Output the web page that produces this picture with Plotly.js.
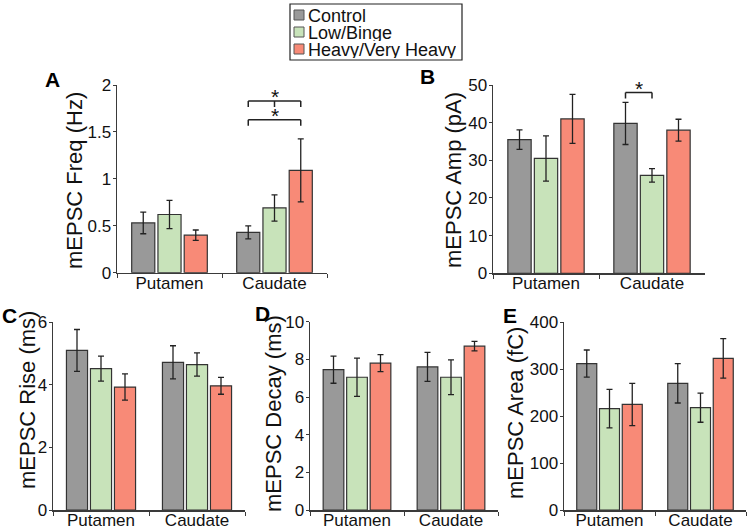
<!DOCTYPE html>
<html>
<head>
<meta charset="utf-8">
<script src="https://cdn.plot.ly/plotly-3.0.1.min.js"></script>
<style>
  html, body { margin: 0; padding: 0; background: #fff; }
  #myDiv { width: 750px; height: 530px; }
</style>
</head>
<body>
<div id="myDiv"></div>
<script>
var regions = ['Putamen', 'Caudate'];
var groups = ['Control', 'Low/Binge', 'Heavy/Very Heavy'];
var colors = ['#999999', '#c8e3ba', '#f88a77'];

// mean values [Putamen, Caudate] per group, and error (SEM)
var freqMean = [[0.53, 0.43], [0.62, 0.69], [0.40, 1.09]];
var freqErr  = [[0.115, 0.07], [0.15, 0.14], [0.055, 0.335]];

var ampMean = [[35.5, 39.8], [30.5, 26.0], [41.0, 38.0]];
var ampErr  = [[2.6, 5.6], [6.0, 1.8], [6.5, 2.9]];

var riseMean = [[5.1, 4.72], [4.52, 4.65], [3.93, 3.97]];
var riseErr  = [[0.67, 0.53], [0.4, 0.37], [0.42, 0.27]];

var decayMean = [[7.45, 7.6], [7.05, 7.05], [7.8, 8.7]];
var decayErr  = [[0.72, 0.77], [1.02, 0.92], [0.45, 0.25]];

var areaMean = [[312, 270], [216, 218], [225, 323]];
var areaErr  = [[29, 42], [41, 31], [45, 42]];

var font = 'Liberation Sans';
var axisColor = '#3a3a3a';

var data = [];
function addPanel(mean, err, ax) {
	for (var g = 0; g < groups.length; g++) {
		data.push({
			type: 'bar',
			x: regions,
			y: mean[g],
			name: groups[g],
			showlegend: false,
			xaxis: 'x' + ax,
			yaxis: 'y' + ax,
			marker: { color: colors[g], line: { color: '#333', width: 1.2 } },
			error_y: { type: 'data', array: err[g], visible: true, color: '#222', thickness: 1.3, width: 3 }
		});
	}
}
addPanel(freqMean, freqErr, '');
addPanel(ampMean, ampErr, '2');
addPanel(riseMean, riseErr, '3');
addPanel(decayMean, decayErr, '4');
addPanel(areaMean, areaErr, '5');

function xAxis(px0, px1, anchor) {
	return {
		domain: [px0 / 750, px1 / 750], anchor: anchor,
		showline: true, linecolor: axisColor, linewidth: 1.5,
		ticks: 'outside', tickson: 'boundaries', ticklen: 4, tickcolor: axisColor,
		ticklabelstandoff: -6,
		showgrid: false, zeroline: false,
		tickfont: { family: font, size: 17, color: '#111' }
	};
}
function yAxis(py0, py1, anchor, range, dtick) {
	return {
		domain: [1 - py1 / 530, 1 - py0 / 530], anchor: anchor,
		range: range, dtick: dtick,
		showline: true, linecolor: axisColor, linewidth: 1.5,
		ticks: 'outside', ticklen: 3, tickcolor: axisColor,
		ticklabelstandoff: -2,
		showgrid: false, zeroline: false,
		tickfont: { family: font, size: 17, color: '#111' }
	};
}

var shapes = [];
function bracket(xa, ya, x0, x1, y, drop, mids) {
	var s = { type: 'line', xref: xa, yref: ya, line: { color: '#222', width: 1.5 } };
	shapes.push(Object.assign({}, s, { x0: x0, x1: x1, y0: y, y1: y }));
	var pts = [x0, x1].concat(mids || []);
	pts.forEach(function (p) {
		shapes.push(Object.assign({}, s, { x0: p, x1: p, y0: y, y1: y - drop }));
	});
}
// significance brackets (category index positions of grouped bars)
bracket('x', 'y', 0.75, 1.25, 1.83, 0.065, [1.0]);
bracket('x', 'y', 0.75, 1.25, 1.63, 0.065);
bracket('x2', 'y2', 0.75, 1.0, 48, 1.6);

// legend box and swatches
shapes.push({ type: 'rect', xref: 'paper', yref: 'paper',
	x0: 290 / 750, x1: 462 / 750, y0: 1 - 60 / 530, y1: 1 - 4 / 530,
	line: { color: '#222', width: 1.2 }, fillcolor: 'rgba(0,0,0,0)' });
var legY = [15, 32, 49];
var annotations = [];
for (var g = 0; g < groups.length; g++) {
	shapes.push({ type: 'rect', xref: 'paper', yref: 'paper',
		x0: 294 / 750, x1: 304 / 750, y0: 1 - (legY[g] + 5) / 530, y1: 1 - (legY[g] - 5) / 530,
		line: { color: '#555', width: 1 }, fillcolor: colors[g] });
	annotations.push({ xref: 'paper', yref: 'paper', x: 306 / 750, y: 1 - (legY[g] + 1) / 530,
		xanchor: 'left', yanchor: 'middle', showarrow: false, text: groups[g], height: 16,
		font: { family: font, size: 18, color: '#111' } });
}

function star(xa, ya, x, y) {
	annotations.push({ xref: xa, yref: ya, x: x, y: y, yanchor: 'bottom', showarrow: false,
		text: '*', height: 12, font: { family: font, size: 21, color: '#111' }, yshift: -3 });
}
star('x', 'y', 1.0, 1.83);
star('x', 'y', 1.0, 1.63);
star('x2', 'y2', 0.875, 48);

// y-axis titles, rotated
var yTitles = [['mEPSC Freq (Hz)', 74, 181], ['mEPSC Amp (pA)', 454, 180],
	['mEPSC Rise (ms)', 27, 400], ['mEPSC Decay (ms)', 273, 414], ['mEPSC Area (fC)', 515, 413]];
yTitles.forEach(function (t) {
	annotations.push({ xref: 'paper', yref: 'paper', x: t[1] / 750, y: 1 - t[2] / 530,
		xanchor: 'center', yanchor: 'middle', showarrow: false, textangle: -90, text: t[0],
		font: { family: font, size: 22, color: '#111' } });
});

var letters = [['A', 52, 80], ['B', 427, 77], ['C', 9, 315], ['D', 262, 313], ['E', 510, 315]];
letters.forEach(function (l) {
	annotations.push({ xref: 'paper', yref: 'paper', x: l[1] / 750, y: 1 - l[2] / 530,
		xanchor: 'center', yanchor: 'middle', showarrow: false, text: '<b>' + l[0] + '</b>',
		font: { family: font, size: 21, color: '#000' } });
});

var layout = {
	width: 750, height: 530,
	margin: { l: 0, r: 0, t: 0, b: 0 },
	paper_bgcolor: '#fff', plot_bgcolor: '#fff',
	barmode: 'group', bargap: 0.25, bargroupgap: 0.12,
	showlegend: false,
	xaxis: xAxis(117, 327, 'y'),
	yaxis: yAxis(85, 272.7, 'x', [0, 2], 0.5),
	xaxis2: xAxis(493, 705, 'y2'),
	yaxis2: yAxis(85, 273.3, 'x2', [0, 50], 10),
	xaxis3: xAxis(53, 245, 'y3'),
	yaxis3: yAxis(322.3, 510, 'x3', [0, 6], 2),
	xaxis4: xAxis(310, 498, 'y4'),
	yaxis4: yAxis(321.7, 510, 'x4', [0, 10], 2),
	xaxis5: xAxis(564, 746, 'y5'),
	yaxis5: yAxis(322.3, 510, 'x5', [0, 400], 100),
	shapes: shapes,
	annotations: annotations
};

Plotly.newPlot('myDiv', data, layout, { displayModeBar: false, staticPlot: true });
</script>
</body>
</html>
